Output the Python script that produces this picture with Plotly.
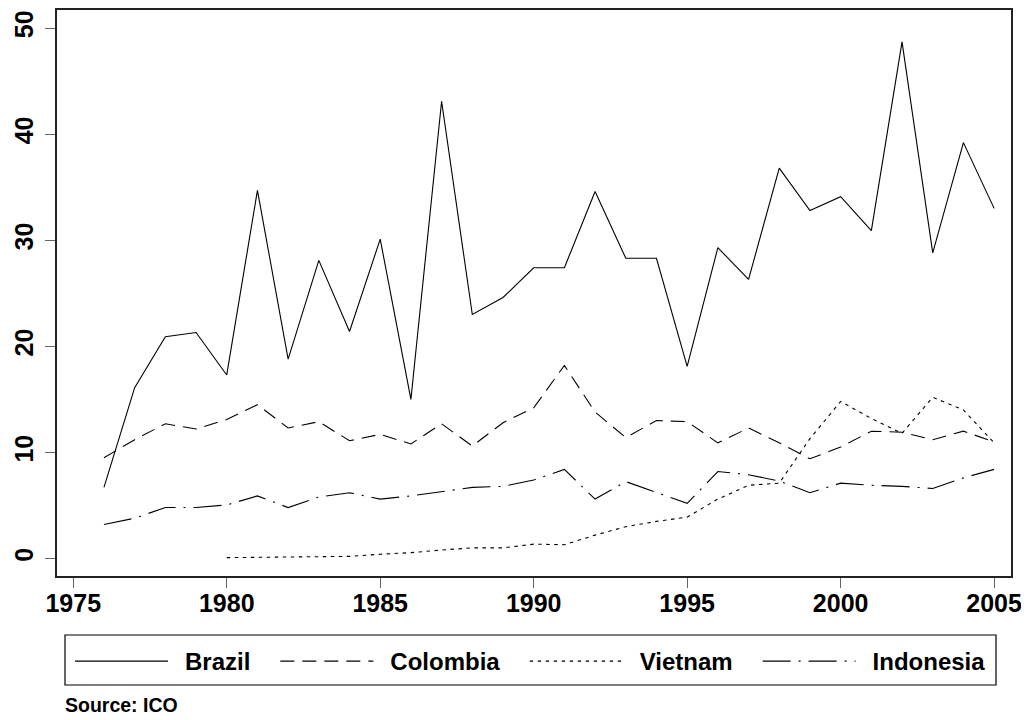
import plotly.graph_objects as go

years = list(range(1976, 2006))
years_vn = list(range(1980, 2006))

brazil = [6.7, 16.1, 20.9, 21.3, 17.3, 34.7, 18.8, 28.1, 21.4, 30.1,
          15.0, 43.1, 23.0, 24.6, 27.4, 27.4, 34.6, 28.3, 28.3, 18.1,
          29.3, 26.3, 36.8, 32.8, 34.1, 30.9, 48.7, 28.8, 39.2, 33.0]
colombia = [9.5, 11.2, 12.7, 12.2, 13.1, 14.5, 12.3, 12.9, 11.1, 11.7,
            10.8, 12.7, 10.6, 12.8, 14.2, 18.2, 13.8, 11.4, 13.0, 12.9,
            10.9, 12.3, 10.9, 9.4, 10.5, 12.0, 11.9, 11.2, 12.0, 11.0]
vietnam = [0.08, 0.1, 0.15, 0.15, 0.2, 0.4, 0.55, 0.8, 1.0, 1.0,
           1.35, 1.3, 2.2, 3.0, 3.5, 3.9, 5.6, 6.9, 7.1, 11.3,
           14.8, 13.2, 11.8, 15.2, 14.0, 10.9]
indonesia = [3.2, 3.8, 4.8, 4.8, 5.05, 5.9, 4.8, 5.8, 6.2, 5.6,
             5.9, 6.3, 6.7, 6.8, 7.4, 8.4, 5.6, 7.25, 6.2, 5.2,
             8.2, 7.9, 7.3, 6.2, 7.1, 6.9, 6.8, 6.6, 7.6, 8.4]

x_ticks = [1975, 1980, 1985, 1990, 1995, 2000, 2005]
y_ticks = [0, 10, 20, 30, 40, 50]

FONT = "Liberation Sans"
SP = "\u2002"   # en space (gap between legend key and label)
NB = "\u00a0"

fig = go.Figure()
series = [
    (SP + "Brazil" + NB * 3, years, brazil, "solid"),
    (SP + "Colombia" + NB * 3, years, colombia, "14px,8px"),
    (SP + "Vietnam" + NB * 3, years_vn, vietnam, "3.5px,4.5px"),
    (SP + "Indonesia", years, indonesia, "28px,8px,2px,8px"),
]
for name, xs, ys, dash in series:
    fig.add_trace(go.Scatter(x=xs, y=ys, name=name, mode="lines",
                             line=dict(color="black", width=1.1, dash=dash)))

# page body has an 8px margin: figure is sized/placed to compensate
fig.update_layout(
    width=1021, height=712,
    margin=dict(l=49, r=18, t=2, b=144, autoexpand=False),
    paper_bgcolor="white", plot_bgcolor="white",
    font=dict(family=FONT, color="black"),
    legend=dict(
        orientation="h", x=0.0136, xanchor="left", y=-0.1113, yanchor="top",
        borderwidth=0, bgcolor="rgba(0,0,0,0)",
        font=dict(family=FONT, size=24, weight="bold"),
        itemwidth=93, traceorder="normal",
    ),
    shapes=[dict(type="rect", xref="paper", yref="paper",
                 x0=0.00839, x1=0.98428, y0=-0.19258, y1=-0.10424,
                 line=dict(color="black", width=1.2), layer="below")],
    annotations=[dict(text="Source: ICO", xref="paper", yref="paper",
                      x=0.0063, y=-0.2279, xanchor="left", yanchor="middle",
                      showarrow=False,
                      font=dict(family=FONT, size=19.5, weight="bold"))],
)
fig.update_xaxes(range=[1974.47, 2005.55], tickvals=x_ticks, showgrid=False,
                 zeroline=False, showline=True, linecolor="#222", linewidth=1.5,
                 mirror=True, ticks="outside", ticklen=10, tickcolor="#666",
                 automargin=False, ticklabelstandoff=-6,
                 tickfont=dict(family=FONT, size=25, weight="bold"))
fig.update_yaxes(range=[-1.65, 51.7], tickvals=y_ticks, showgrid=False,
                 zeroline=False, showline=True, linecolor="#222", linewidth=1.5,
                 mirror=True, ticks="outside", ticklen=10, tickcolor="#666",
                 tickangle=-90, automargin=False, ticklabelstandoff=2,
                 tickfont=dict(family=FONT, size=25, weight="bold"))

fig.write_html("out.html")
